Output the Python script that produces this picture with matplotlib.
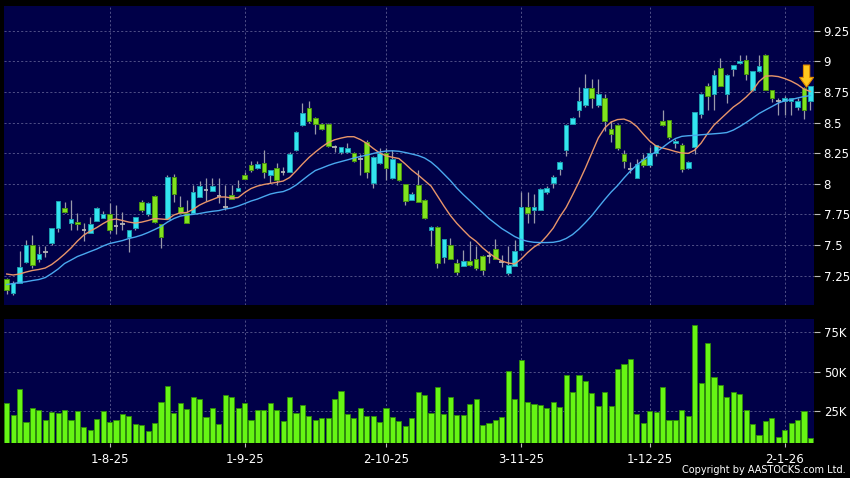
import numpy as np
import matplotlib
matplotlib.use("Agg")
import matplotlib.pyplot as plt

# daily bars, oldest first (10-7-25 .. 8-1-26), prices
opens = [7.22, 7.11, 7.19, 7.36, 7.50, 7.39, 7.44, 7.52, 7.64, 7.80,
         7.68, 7.69, 7.62, 7.60, 7.70, 7.72, 7.75, 7.66, 7.67, 7.57,
         7.64, 7.85, 7.75, 7.90, 7.67, 7.71, 8.06, 7.81, 7.76, 7.76,
         7.89, 7.95, 7.94, 7.90, 7.81, 7.91, 7.94, 8.07, 8.15, 8.13,
         8.17, 8.07, 8.13, 8.10, 8.10, 8.28, 8.48, 8.62, 8.54, 8.49,
         8.49, 8.30, 8.26, 8.26, 8.25, 8.20, 8.34, 8.01, 8.17, 8.25,
         8.05, 8.17, 8.00, 7.87, 7.99, 7.87, 7.62, 7.65, 7.40, 7.50,
         7.35, 7.33, 7.37, 7.39, 7.41, 7.41, 7.47, 7.36, 7.27, 7.33,
         7.46, 7.81, 7.79, 7.79, 7.93, 8.01, 8.12, 8.28, 8.49, 8.60,
         8.64, 8.78, 8.64, 8.70, 8.45, 8.48, 8.24, 8.12, 8.05, 8.20,
         8.15, 8.25, 8.51, 8.52, 8.33, 8.32, 8.13, 8.30, 8.57, 8.80,
         8.73, 8.95, 8.73, 8.94, 8.99, 9.01, 8.77, 8.92, 9.05, 8.77,
         8.68, 8.68, 8.68, 8.63, 8.78, 8.68]
highs = [7.23, 7.21, 7.45, 7.54, 7.58, 7.49, 7.49, 7.64, 7.86, 7.85,
         7.87, 7.76, 7.68, 7.73, 7.81, 7.78, 7.84, 7.83, 7.77, 7.62,
         7.73, 7.87, 7.85, 7.91, 7.67, 8.07, 8.08, 7.90, 7.87, 7.99,
         8.02, 8.05, 8.05, 8.05, 7.99, 7.99, 8.03, 8.10, 8.19, 8.19,
         8.28, 8.11, 8.17, 8.14, 8.26, 8.43, 8.66, 8.68, 8.55, 8.50,
         8.50, 8.32, 8.30, 8.33, 8.26, 8.24, 8.36, 8.23, 8.29, 8.29,
         8.28, 8.17, 8.00, 7.93, 8.11, 7.88, 7.66, 7.66, 7.55, 7.56,
         7.39, 7.46, 7.53, 7.49, 7.42, 7.45, 7.55, 7.42, 7.49, 7.54,
         7.93, 7.93, 7.92, 7.97, 7.98, 8.07, 8.19, 8.49, 8.55, 8.79,
         8.90, 8.86, 8.86, 8.73, 8.51, 8.49, 8.28, 8.18, 8.20, 8.24,
         8.30, 8.32, 8.60, 8.52, 8.37, 8.33, 8.19, 8.59, 8.74, 8.82,
         8.93, 9.03, 8.90, 8.97, 9.05, 9.05, 8.92, 9.05, 9.06, 8.77,
         8.70, 8.72, 8.70, 8.70, 8.79, 8.80]
lows = [7.10, 7.09, 7.19, 7.35, 7.31, 7.36, 7.40, 7.50, 7.61, 7.76,
        7.62, 7.62, 7.53, 7.60, 7.70, 7.72, 7.60, 7.59, 7.62, 7.44,
        7.62, 7.77, 7.74, 7.68, 7.48, 7.71, 7.85, 7.76, 7.68, 7.76,
        7.89, 7.86, 7.94, 7.84, 7.79, 7.88, 7.94, 8.04, 8.10, 8.12,
        8.05, 8.01, 7.99, 8.07, 8.10, 8.27, 8.47, 8.50, 8.41, 8.44,
        8.30, 8.26, 8.24, 8.25, 8.18, 8.07, 8.05, 7.97, 8.16, 8.03,
        8.04, 8.02, 7.83, 7.87, 7.85, 7.71, 7.49, 7.31, 7.35, 7.39,
        7.26, 7.33, 7.33, 7.30, 7.26, 7.35, 7.39, 7.32, 7.26, 7.33,
        7.46, 7.68, 7.68, 7.79, 7.92, 7.97, 8.07, 8.23, 8.49, 8.55,
        8.63, 8.62, 8.63, 8.43, 8.34, 8.28, 8.13, 8.09, 8.05, 8.14,
        8.14, 8.23, 8.47, 8.37, 8.29, 8.10, 8.12, 8.24, 8.54, 8.60,
        8.60, 8.80, 8.66, 8.88, 8.98, 8.85, 8.76, 8.91, 8.77, 8.67,
        8.56, 8.56, 8.56, 8.60, 8.53, 8.60]
closes = [7.13, 7.19, 7.32, 7.50, 7.34, 7.43, 7.44, 7.64, 7.86, 7.77,
          7.71, 7.67, 7.62, 7.67, 7.80, 7.75, 7.62, 7.66, 7.67, 7.62,
          7.73, 7.79, 7.84, 7.69, 7.57, 8.06, 7.92, 7.76, 7.68, 7.93,
          7.98, 7.95, 7.98, 7.90, 7.81, 7.88, 7.97, 8.04, 8.11, 8.16,
          8.10, 8.11, 8.03, 8.10, 8.24, 8.42, 8.58, 8.51, 8.49, 8.45,
          8.31, 8.30, 8.30, 8.29, 8.19, 8.20, 8.10, 8.22, 8.25, 8.13,
          8.20, 8.03, 7.86, 7.92, 7.85, 7.72, 7.65, 7.35, 7.55, 7.39,
          7.28, 7.37, 7.34, 7.31, 7.30, 7.41, 7.39, 7.36, 7.34, 7.45,
          7.81, 7.76, 7.81, 7.96, 7.97, 8.06, 8.18, 8.48, 8.54, 8.68,
          8.78, 8.70, 8.73, 8.51, 8.41, 8.29, 8.19, 8.12, 8.16, 8.15,
          8.25, 8.32, 8.48, 8.38, 8.35, 8.12, 8.18, 8.59, 8.73, 8.72,
          8.89, 8.80, 8.89, 8.97, 9.00, 8.90, 8.92, 8.96, 8.77, 8.70,
          8.68, 8.70, 8.70, 8.68, 8.60, 8.80]
# volume in thousands
volume_k = [29.9, 22.5, 39.0, 17.8, 26.5, 25.6, 18.9, 24.2, 23.7, 25.6,
            19.3, 25.0, 14.6, 12.5, 19.7, 24.8, 18.0, 18.9, 22.7, 21.6,
            16.7, 16.1, 12.3, 17.4, 30.7, 40.9, 23.7, 30.3, 26.1, 34.1,
            32.8, 21.0, 26.7, 16.7, 35.0, 33.5, 27.1, 29.9, 19.1, 25.4,
            25.4, 29.9, 25.6, 18.6, 33.5, 23.9, 29.0, 21.8, 18.9, 20.3,
            20.3, 32.4, 37.9, 22.9, 20.5, 27.1, 21.8, 21.8, 18.2, 26.7,
            20.8, 18.4, 15.5, 20.5, 36.9, 35.4, 23.5, 40.5, 22.9, 33.7,
            22.5, 22.5, 29.5, 32.6, 16.1, 17.2, 19.3, 21.0, 50.4, 32.4,
            57.4, 30.9, 29.5, 28.6, 26.7, 30.5, 27.3, 47.9, 36.7, 47.9,
            44.1, 36.2, 27.8, 36.7, 28.2, 51.5, 54.7, 58.1, 23.1, 17.2,
            24.6, 24.2, 40.0, 19.3, 19.3, 25.6, 21.6, 79.7, 42.6, 68.0,
            46.4, 41.5, 33.7, 36.9, 35.6, 25.4, 16.7, 9.5, 18.6, 20.3,
            8.3, 12.9, 17.2, 18.9, 24.6, 7.6]
# moving averages as drawn (orange = short, blue = long)
ma_short = [7.264, 7.256, 7.264, 7.280, 7.293, 7.301, 7.313, 7.342, 7.382, 7.427,
            7.476, 7.533, 7.582, 7.615, 7.643, 7.676, 7.705, 7.713, 7.701, 7.688,
            7.680, 7.688, 7.701, 7.717, 7.713, 7.709, 7.746, 7.764, 7.766, 7.792,
            7.827, 7.852, 7.872, 7.893, 7.893, 7.884, 7.888, 7.929, 7.962, 7.982,
            7.995, 8.004, 8.013, 8.023, 8.052, 8.105, 8.162, 8.215, 8.260, 8.301,
            8.337, 8.360, 8.374, 8.385, 8.385, 8.362, 8.331, 8.290, 8.252, 8.229,
            8.217, 8.207, 8.162, 8.113, 8.072, 8.027, 7.982, 7.901, 7.819, 7.742,
            7.678, 7.623, 7.570, 7.531, 7.479, 7.435, 7.399, 7.370, 7.354, 7.346,
            7.386, 7.439, 7.484, 7.517, 7.574, 7.639, 7.729, 7.807, 7.909, 8.015,
            8.129, 8.252, 8.374, 8.456, 8.505, 8.525, 8.529, 8.509, 8.468, 8.407,
            8.350, 8.309, 8.293, 8.280, 8.264, 8.252, 8.249, 8.276, 8.333, 8.411,
            8.480, 8.529, 8.578, 8.627, 8.664, 8.709, 8.762, 8.835, 8.880, 8.882,
            8.876, 8.860, 8.839, 8.811, 8.774, 8.754]
ma_long = [7.178, 7.186, 7.195, 7.201, 7.211, 7.219, 7.235, 7.268, 7.305, 7.350,
           7.378, 7.407, 7.427, 7.448, 7.468, 7.493, 7.513, 7.525, 7.537, 7.554,
           7.566, 7.582, 7.603, 7.627, 7.652, 7.688, 7.717, 7.737, 7.746, 7.751,
           7.758, 7.768, 7.776, 7.782, 7.795, 7.803, 7.819, 7.839, 7.860, 7.876,
           7.897, 7.917, 7.929, 7.937, 7.958, 7.990, 8.031, 8.072, 8.109, 8.129,
           8.150, 8.168, 8.182, 8.196, 8.211, 8.223, 8.235, 8.248, 8.260, 8.268,
           8.270, 8.266, 8.256, 8.244, 8.231, 8.211, 8.178, 8.133, 8.080, 8.027,
           7.966, 7.913, 7.864, 7.815, 7.766, 7.717, 7.676, 7.635, 7.603, 7.570,
           7.546, 7.531, 7.523, 7.521, 7.521, 7.523, 7.533, 7.554, 7.586, 7.631,
           7.684, 7.741, 7.807, 7.872, 7.933, 7.986, 8.048, 8.105, 8.154, 8.195,
           8.235, 8.260, 8.297, 8.337, 8.370, 8.388, 8.393, 8.396, 8.401, 8.405,
           8.409, 8.413, 8.419, 8.439, 8.468, 8.501, 8.537, 8.574, 8.603, 8.631,
           8.660, 8.678, 8.688, 8.701, 8.713, 8.721]

date_ticks = [16, 37, 59, 80, 100, 121]
date_labels = ['1-8-25', '1-9-25', '2-10-25', '3-11-25', '1-12-25', '2-1-26']
price_ticks = [7.25, 7.5, 7.75, 8, 8.25, 8.5, 8.75, 9, 9.25]
price_labels = ['7.25', '7.5', '7.75', '8', '8.25', '8.5', '8.75', '9', '9.25']
vol_ticks = [25, 50, 75]
vol_labels = ['25K', '50K', '75K']
flag_day = 124  # bar marked by the arrow

BG = '#000048'
GRID = '#5c5c90'
UP, UP_EDGE = '#33e4f0', '#1c9cae'
DOWN, DOWN_EDGE = '#80e21e', '#4a9410'

fig = plt.figure(figsize=(8.5, 4.78), dpi=100, facecolor='black')
ax = fig.add_axes([0.0047, 0.3619, 0.9529, 0.6255])
axv = fig.add_axes([0.0047, 0.0732, 0.9529, 0.2594], sharex=ax)

x = np.arange(len(closes))
o = np.array(opens)
c = np.array(closes)
h = np.array(highs)
l = np.array(lows)
up = c > o
down = c < o
flat = c == o

# candles
ax.vlines(x, l, h, color='#9a9aaa', lw=0.9, zorder=2)
ax.bar(x[up], (c - o)[up], bottom=o[up], width=0.72,
       color=UP, edgecolor=UP_EDGE, lw=0.7, zorder=3)
ax.bar(x[down], (o - c)[down], bottom=c[down], width=0.72,
       color=DOWN, edgecolor=DOWN_EDGE, lw=0.7, zorder=3)
ax.hlines(c[flat], x[flat] - 0.36, x[flat] + 0.36, color='#b4b4b4', lw=1.3, zorder=3)

ax.plot(x, ma_short, color='#e8956a', lw=1.0, zorder=4)
ax.plot(x, ma_long, color='#4aa8ee', lw=1.0, zorder=4)

# arrow over the flagged bar
ax.annotate('', xy=(flag_day + 0.4, h[flag_day]), xytext=(flag_day + 0.4, h[flag_day] + 0.18),
            arrowprops=dict(arrowstyle='simple,head_length=0.7,head_width=1.0,tail_width=0.45',
                            fc='#ffc81e', ec='#e08a00', lw=0.8, shrinkA=0, shrinkB=0),
            zorder=6)

# volume
axv.bar(x, volume_k, width=0.8, color='#66f514', edgecolor='#2f8c08', lw=0.6, zorder=3)

for a in (ax, axv):
    a.set_facecolor(BG)
    for s in a.spines.values():
        s.set_visible(False)
    a.yaxis.tick_right()
    a.tick_params(axis='y', colors='white', labelsize=8.5, length=4, width=0.8, pad=3)
    a.tick_params(axis='y', color='#bbbbbb')
    a.grid(True, color=GRID, ls=(0, (2.5, 2.5)), lw=0.6, zorder=0)
    a.set_axisbelow(True)

ax.set_xlim(-0.42, 125.55)
ax.set_ylim(7.011, 9.452)
ax.set_yticks(price_ticks)
ax.set_yticklabels(price_labels)
ax.tick_params(axis='x', length=0, labelbottom=False)

axv.set_ylim(4.5, 83.5)
axv.set_yticks(vol_ticks)
axv.set_yticklabels(vol_labels)
axv.set_xticks(date_ticks)
axv.set_xticklabels(date_labels)
axv.tick_params(axis='x', colors='white', labelsize=8.5, length=3, width=0.8, pad=4)
axv.tick_params(axis='x', color='#bbbbbb')

fig.text(0.995, 0.017, 'Copyright by AASTOCKS.com Ltd.', ha='right', va='center',
         color='white', fontsize=7)

fig.savefig('out.png', dpi=100, facecolor='black')
